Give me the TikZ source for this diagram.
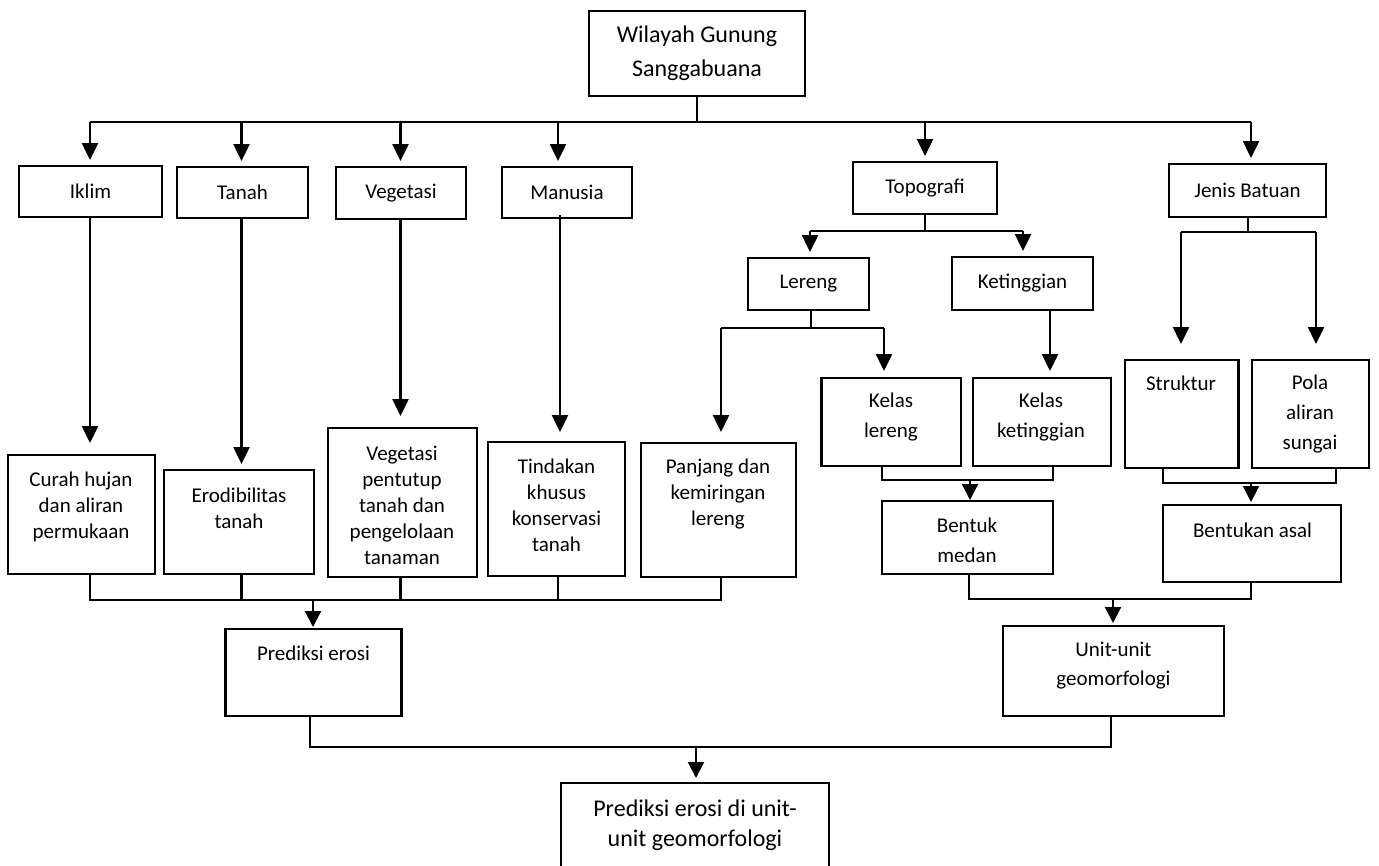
\documentclass[tikz,border=0pt]{standalone}
\usepackage{fontspec}
\setmainfont{Carlito}
\usetikzlibrary{arrows.meta}
\newcommand\fsz[2]{\fontsize{#1}{#2}\selectfont}
\begin{document}
\begin{tikzpicture}[x=1pt,y=-1pt,
  box/.style={draw, line width=2.5pt, inner sep=0pt, outer sep=0pt, align=center},
  txt/.style={inner sep=0pt, outer sep=0pt, align=center},
  fa/.style={font=\fsz{21}{26}},
  fb/.style={font=\fsz{21}{26}},
  fc/.style={font=\fsz{21}{30}},
  ln/.style={line width=2.5pt},
  lnthin/.style={line width=2.1pt},
  arr/.style={line width=2.5pt, -{Triangle[width=16pt,length=17pt]}},
  sarr/.style={line width=2.1pt, -{Triangle[width=16pt,length=16pt]}},
]
\clip (0,0) rectangle (1379,865);
\fill[white] (0,0) rectangle (1379,865);

% ---------- boxes ----------
\node[box, minimum width=216pt, minimum height=85pt, font=\fsz{24}{34}] (top) at (697,53.5) {Wilayah Gunung\\Sanggabuana};

\node[box, fa, minimum width=143pt, minimum height=51pt] (iklim) at (90.5,191.5) {Iklim};
\node[box, fa, minimum width=131pt, minimum height=51pt] (tanah) at (242.5,192.5) {Tanah};
\node[box, fa, minimum width=130pt, minimum height=52pt] (veg) at (401,193) {Vegetasi};
\node[box, fa, minimum width=130pt, minimum height=51pt] (manusia) at (567,192.5) {Manusia};
\node[box, fa, minimum width=144pt, minimum height=52pt] (topo) at (925,188) {Topografi};
\node[box, fa, minimum width=157pt, minimum height=53pt] (jenis) at (1247.5,190.5) {Jenis Batuan};
\node[box, fa, minimum width=121pt, minimum height=52pt] (lereng) at (808.5,284) {Lereng};
\node[box, fa, minimum width=141pt, minimum height=53pt] (ketinggian) at (1022.5,283.5) {Ketinggian};

\node[box, minimum width=147pt, minimum height=119pt] (curah) at (81.3,514.5) {};
\node[box, minimum width=150pt, minimum height=104pt] (erod) at (239,522) {};
\node[box, minimum width=149pt, minimum height=149pt] (vp) at (402.5,502.5) {};
\node[box, minimum width=137pt, minimum height=134pt] (tk) at (556.5,509) {};
\node[box, minimum width=155pt, minimum height=134pt] (pj) at (718.5,510) {};
\node[box, minimum width=139.5pt, minimum height=88pt] (kl) at (891.25,422) {};
\node[box, minimum width=138pt, minimum height=88pt] (kk) at (1042,422) {};
\node[box, minimum width=113.5pt, minimum height=108pt] (struk) at (1181.75,414) {};
\node[box, minimum width=117pt, minimum height=108pt] (pola) at (1310.5,414) {};
\node[box, minimum width=171pt, minimum height=73pt] (bm) at (967.5,537.5) {};
\node[box, minimum width=178pt, minimum height=77pt] (ba) at (1252,543.5) {};
\node[box, minimum width=176pt, minimum height=87pt] (pe) at (313.5,672.5) {};
\node[box, minimum width=221pt, minimum height=90pt] (uu) at (1113.5,671) {};
\node[box, minimum width=268pt, minimum height=94pt] (fin) at (695,830) {};

% ---------- texts ----------
\node[txt, fb] (t-curah) at (81,507) {Curah hujan\\dan aliran\\permukaan};
\node[txt, fb] (t-erod) at (239,508) {Erodibilitas\\tanah};
\node[txt, fb] (t-vp) at (402,505) {Vegetasi\\pentutup\\tanah dan\\pengelolaan\\tanaman};
\node[txt, fb] (t-tk) at (556.5,505) {Tindakan\\khusus\\konservasi\\tanah};
\node[txt, fb] (t-pj) at (718,494) {Panjang dan\\kemiringan\\lereng};
\node[txt, fc] (t-kl) at (891,417.5) {Kelas\\lereng};
\node[txt, fc] (t-kk) at (1041,417.5) {Kelas\\ketinggian};
\node[txt, fc] (t-struk) at (1181,383) {Struktur};
\node[txt, fc] (t-pola) at (1310,414) {Pola\\aliran\\sungai};
\node[txt, fc] (t-bm) at (967,540.5) {Bentuk\\medan};
\node[txt, fc] (t-ba) at (1252.5,530) {Bentukan asal};
\node[txt, fb] (t-pe) at (313.5,653) {Prediksi erosi};
\node[txt, font=\fsz{21}{29}] (t-uu) at (1113.5,666) {Unit-unit\\geomorfologi};
\node[txt, font=\fsz{24}{30}] (t-fin) at (695,825) {Prediksi erosi di unit-\\unit geomorfologi};

% ---------- top bus ----------
\coordinate (bL) at (90,122);
\coordinate (bR) at (1251,122);
\coordinate (bTan) at (241.5,122);
\coordinate (bVeg) at (400.5,122);
\coordinate (bMan) at (558,122);
\coordinate (bTop) at (925,122);
\draw[ln] (top.south) -- (top.south |- bL);
\draw[ln] (bL) -- (bR);
\draw[arr, shorten >=6pt] (bL) -- (iklim.north -| bL);
\draw[arr, shorten >=6pt] (bTan) -- (tanah.north -| bTan);
\draw[arr, shorten >=6pt] (bVeg) -- (veg.north -| bVeg);
\draw[arr, shorten >=6pt] (bMan) -- (manusia.north -| bMan);
\draw[arr, shorten >=6pt] (bTop) -- (topo.north -| bTop);
\draw[arr, shorten >=6pt] (bR) -- (jenis.north -| bR);

% ---------- long arrows ----------
\draw[arr, shorten >=12pt] (iklim.south -| bL) -- (curah.north -| bL);
\draw[arr, shorten >=6pt] (tanah.south -| bTan) -- (erod.north -| bTan);
\draw[arr, shorten >=12pt] (veg.south -| bVeg) -- (vp.north -| bVeg);
\coordinate (mX) at (560,215);
\draw[arr, shorten >=10pt] (mX) -- (tk.north -| mX);

% ---------- topografi ----------
\coordinate (tb) at (925,231);
\coordinate (tbL) at (810,231);
\coordinate (tbR) at (1023,231);
\draw[ln] (topo.south) -- (tb);
\draw[ln] (tbL) -- (tbR);
\draw[arr, shorten >=6pt] (tbL) -- (lereng.north -| tbL);
\draw[arr, shorten >=6pt] (tbR) -- (ketinggian.north -| tbR);

% ---------- jenis batuan ----------
\coordinate (jb) at (1248,232);
\coordinate (jbL) at (1181,232);
\coordinate (jbR) at (1316,232);
\draw[ln] (jenis.south -| jb) -- (jb);
\draw[ln] (jbL) -- (jbR);
\draw[arr, shorten >=16pt] (jbL) -- (struk.north -| jbL);
\draw[arr, shorten >=16pt] (jbR) -- (pola.north -| jbR);

% ---------- lereng / ketinggian ----------
\coordinate (lb) at (811,328);
\coordinate (lbL) at (721,328);
\coordinate (lbR) at (884,328);
\draw[ln] (lereng.south -| lb) -- (lb);
\draw[ln] (lbL) -- (lbR);
\draw[arr, shorten >=11pt] (lbL) -- (pj.north -| lbL);
\draw[arr, shorten >=7pt] (lbR) -- (kl.north -| lbR);
\coordinate (kx) at (1050,310);
\draw[arr, shorten >=7pt] (ketinggian.south -| kx) -- (kk.north -| kx);

% ---------- kelas -> bentuk medan ----------
\coordinate (kbL) at (882,480);
\coordinate (kbR) at (1053,480);
\coordinate (kbM) at (970,480);
\draw[lnthin] (kl.south -| kbL) -- (kbL) -- (kbR) -- (kk.south -| kbR);
\draw[sarr, shorten >=1pt] (kbM) -- (bm.north -| kbM);

% ---------- struktur/pola -> bentukan asal ----------
\coordinate (sbL) at (1163,483);
\coordinate (sbR) at (1336,483);
\coordinate (sbM) at (1251,483);
\draw[lnthin] (struk.south -| sbL) -- (sbL) -- (sbR) -- (pola.south -| sbR);
\draw[sarr, shorten >=3pt] (sbM) -- (ba.north -| sbM);

% ---------- left group -> prediksi erosi ----------
\coordinate (lgL) at (90,600);
\coordinate (lgR) at (721,600);
\coordinate (lgM) at (313,600);
\draw[lnthin] (curah.south -| lgL) -- (lgL) -- (lgR) -- (pj.south -| lgR);
\draw[lnthin] (erod.south -| bTan) -- (bTan |- lgL);
\draw[lnthin] (vp.south -| bVeg) -- (bVeg |- lgL);
\draw[lnthin] (tk.south -| bMan) -- (bMan |- lgL);
\draw[sarr, shorten >=2pt] (lgM) -- (pe.north -| lgM);

% ---------- right group -> unit-unit ----------
\coordinate (rgL) at (969,599);
\coordinate (rgR) at (1251,599);
\coordinate (rgM) at (1113,599);
\draw[lnthin] (bm.south -| rgL) -- (rgL) -- (rgR) -- (ba.south -| rgR);
\draw[sarr, shorten >=3pt] (rgM) -- (uu.north -| rgM);

% ---------- final ----------
\coordinate (fL) at (310,747);
\coordinate (fR) at (1111,747);
\coordinate (fM) at (696,747);
\draw[lnthin] (pe.south -| fL) -- (fL) -- (fR) -- (uu.south -| fR);
\draw[sarr, shorten >=5pt] (fM) -- (fin.north -| fM);
\end{tikzpicture}
\end{document}
